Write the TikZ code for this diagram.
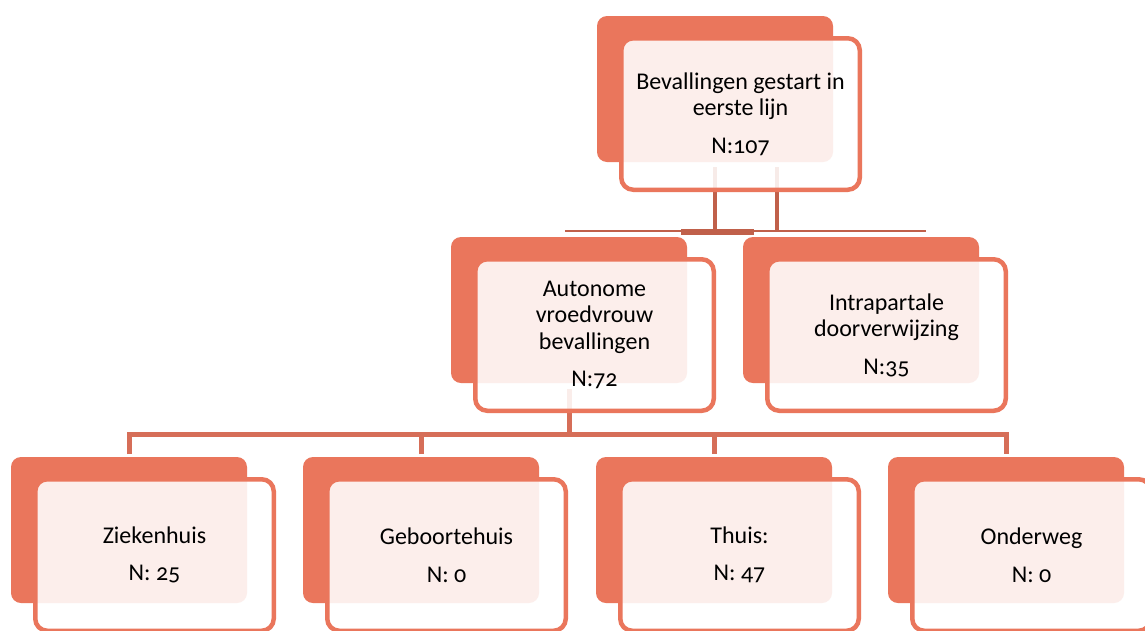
\documentclass[tikz,border=0pt]{standalone}
\usepackage{fontspec}
\setmainfont{Carlito}[Numbers=OldStyle]
\usetikzlibrary{calc}
\definecolor{salmon}{HTML}{EA765C}
\definecolor{connA}{HTML}{C0604A}
\definecolor{connB}{HTML}{D66E58}
\pgfdeclarelayer{bg}
\pgfsetlayers{bg,main}
\tikzset{
  backbox/.style={rectangle, rounded corners=10pt, fill=salmon, minimum width=236pt,
    minimum height=146pt, inner sep=0pt, outer sep=0pt, anchor=north west},
  frontbox/.style={rectangle, rounded corners=12pt, draw=salmon, line width=4.5pt,
    fill=white, fill opacity=0.88, draw opacity=1, minimum width=238.5pt,
    minimum height=151.5pt, inner sep=0pt, outer sep=0pt, anchor=north west},
  boxlabel/.style={align=center, font=\fontsize{24}{26.5}\selectfont, text=black, inner sep=0pt},
  linkA/.style={draw=connA, line width=4pt},
  linkAthin/.style={draw=connA, line width=2.5pt},
  linkB/.style={draw=connB, line width=5pt, line join=miter},
}
\newcommand\orgnode[4]{%
  \node[backbox] (#1) at (#2,#3) {};
  \node[frontbox] (#1f) at (#2+24.25,#3+22.25) {};
  \node[boxlabel] (#1t) at (#1f.center) {#4};
}
\begin{document}
\begin{tikzpicture}[x=1pt,y=-1pt]
\useasboundingbox (0,0) rectangle (1145,630);
\clip (0,0) rectangle (1145,630);
\begin{pgfonlayer}{bg}
\fill[white] (0,0) rectangle (1145,630);
\end{pgfonlayer}

\orgnode{top}{597}{16}{Bevallingen gestart in\\eerste lijn\\[11pt]N:107}
\orgnode{auto}{451}{237}{Autonome\\vroedvrouw\\bevallingen\\[11pt]N:72}
\orgnode{intra}{743}{237}{Intrapartale\\doorverwijzing\\[11pt]N:35}
\orgnode{zk}{11}{457}{Ziekenhuis\\[11pt]N: 25}
\orgnode{gb}{303}{457}{Geboortehuis\\[11pt]N: 0}
\orgnode{th}{596}{457}{Thuis:\\[11pt]N: 47}
\orgnode{ow}{888}{457}{Onderweg\\[11pt]N: 0}

\begin{pgfonlayer}{bg}
\coordinate (hbus) at (0,231);
\coordinate (lbus) at (0,434.5);
\coordinate (hl) at (565,231);
\coordinate (hr) at (926,231);
\draw[linkA] ([yshift=-5pt]top.south) -- (top.south |- hbus);
\draw[linkA] ([xshift=62pt,yshift=-5pt]top.south) -- ([xshift=62pt]top.south |- hbus);
\draw[linkAthin] (hl) -- (hr);
\draw[draw=connA, line width=6pt] ([xshift=-34pt]top.south |- 0,232) -- ([xshift=39pt]top.south |- 0,232);
\draw[linkB] ([yshift=3pt]zk.north) |- (lbus -| ow.north) -- ([yshift=3pt]ow.north);
\draw[linkB] ([yshift=3pt]gb.north) -- (gb.north |- lbus);
\draw[linkB] ([yshift=3pt]th.north) -- (th.north |- lbus);
\draw[linkB] ([yshift=-6pt]auto.south) -- (auto.south |- lbus);
\end{pgfonlayer}
\end{tikzpicture}
\end{document}
